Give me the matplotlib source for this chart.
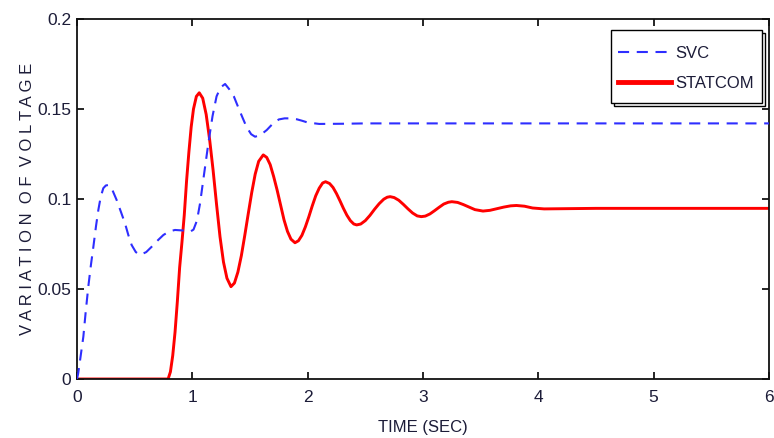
import matplotlib
matplotlib.use("Agg")
import matplotlib.pyplot as plt
from matplotlib.patches import Rectangle

# ---------------- data ----------------
svc_t = [0.00, 0.01, 0.03, 0.055, 0.075, 0.098, 0.12, 0.142, 0.165, 0.185,
         0.205, 0.228, 0.25, 0.272, 0.30, 0.344, 0.38, 0.416, 0.445, 0.474,
         0.51, 0.546, 0.60, 0.648, 0.70, 0.749, 0.80, 0.85, 0.92, 0.98,
         1.01, 1.04, 1.067, 1.10, 1.139, 1.175, 1.21, 1.245, 1.284, 1.32,
         1.36, 1.385, 1.43, 1.47, 1.51, 1.544, 1.59, 1.645, 1.70, 1.75,
         1.80, 1.85, 1.905, 1.95, 2.00, 2.10, 2.30, 2.50, 3.00, 4.00, 5.00, 6.00]
svc_v = [0.000, 0.003, 0.012, 0.0235, 0.037, 0.0513, 0.063, 0.0735, 0.085, 0.0939,
         0.101, 0.106, 0.1075, 0.1078, 0.106, 0.0994, 0.093, 0.0865, 0.080, 0.0744,
         0.0705, 0.0689, 0.0705, 0.0735, 0.077, 0.080, 0.082, 0.0828, 0.0825, 0.0818,
         0.083, 0.088, 0.0976, 0.113, 0.131, 0.146, 0.157, 0.162, 0.1639, 0.161,
         0.157, 0.153, 0.146, 0.140, 0.136, 0.1346, 0.1355, 0.1383, 0.142, 0.1442,
         0.1448, 0.1448, 0.1443, 0.1435, 0.1425, 0.1417, 0.1418, 0.142, 0.142, 0.142, 0.142, 0.142]

statcom_t = [0.00, 0.79, 0.81, 0.83, 0.85, 0.87, 0.89, 0.91, 0.93, 0.95,
             0.97, 0.99, 1.01, 1.035, 1.06, 1.09, 1.12, 1.15, 1.18, 1.21,
             1.24, 1.27, 1.30, 1.335, 1.365, 1.395, 1.425, 1.455, 1.485, 1.515,
             1.545, 1.575, 1.615, 1.645, 1.675, 1.705, 1.735, 1.765, 1.795, 1.825,
             1.855, 1.89, 1.92, 1.95, 1.98, 2.01, 2.04, 2.07, 2.10, 2.13,
             2.155, 2.19, 2.22, 2.25, 2.28, 2.31, 2.34, 2.37, 2.40, 2.425,
             2.46, 2.50, 2.54, 2.58, 2.62, 2.66, 2.69, 2.715, 2.75, 2.79,
             2.83, 2.87, 2.91, 2.95, 2.985, 3.02, 3.06, 3.10, 3.14, 3.18,
             3.22, 3.25, 3.30, 3.35, 3.40, 3.45, 3.52, 3.58, 3.64, 3.70,
             3.76, 3.81, 3.88, 3.95, 4.05, 4.20, 4.35, 4.50, 5.00, 6.00]
statcom_v = [0.000, 0.000, 0.004, 0.013, 0.026, 0.043, 0.062, 0.076, 0.091, 0.110,
             0.126, 0.140, 0.150, 0.157, 0.159, 0.156, 0.147, 0.133, 0.116, 0.097,
             0.079, 0.065, 0.056, 0.0513, 0.0533, 0.0594, 0.0685, 0.0799, 0.0919, 0.1036,
             0.1138, 0.1209, 0.1245, 0.1231, 0.1191, 0.1125, 0.1050, 0.0967, 0.0884, 0.0820,
             0.0777, 0.0757, 0.0768, 0.0798, 0.0845, 0.0901, 0.0962, 0.1018, 0.1060, 0.1089,
             0.1096, 0.1086, 0.1064, 0.1030, 0.0990, 0.0948, 0.0910, 0.0880, 0.0861, 0.0856,
             0.0861, 0.0880, 0.0909, 0.0943, 0.0974, 0.0999, 0.1010, 0.1013, 0.1008, 0.0993,
             0.0970, 0.0945, 0.0922, 0.0906, 0.0902, 0.0905, 0.0917, 0.0935, 0.0954, 0.0972,
             0.0982, 0.0985, 0.0981, 0.0969, 0.0955, 0.0941, 0.0933, 0.0937, 0.0946, 0.0955,
             0.0962, 0.0964, 0.0960, 0.0950, 0.0945, 0.0946, 0.0947, 0.0948, 0.0948, 0.0948]

x_ticks = [0, 1, 2, 3, 4, 5, 6]
y_ticks = [0, 0.05, 0.1, 0.15, 0.2]
y_tick_labels = ["0", "0.05", "0.1", "0.15", "0.2"]
series_names = ["SVC", "STATCOM"]
x_label = "TIME (SEC)"
y_label = "V A R I A T I O N  O F  V O L T A G E"

# ---------------- styling ----------------
plt.rcParams['font.family'] = ['Liberation Sans', 'DejaVu Sans']
plt.rcParams['lines.scale_dashes'] = False
text_color = '#1c1c38'

fig = plt.figure(figsize=(7.74, 4.38), dpi=100)
ax = fig.add_axes([77 / 774, 1 - 379 / 438, 692 / 774, 360 / 438])

ax.plot(svc_t, svc_v, color='#2e2eff', linewidth=1.5, dashes=(8, 5.5),
        label=series_names[0], zorder=3)
ax.plot(statcom_t, statcom_v, color='#ff0000', linewidth=2.1,
        label=series_names[1], zorder=2)

ax.set_xlim(0, 6)
ax.set_ylim(0, 0.2)
ax.set_xticks(x_ticks)
ax.set_xticklabels([str(v) for v in x_ticks])
ax.set_yticks(y_ticks)
ax.set_yticklabels(y_tick_labels)

ax.tick_params(direction='in', length=5, width=1.2, top=True, right=True,
               labelsize=12.5, colors='black', labelcolor=text_color)
ax.tick_params(axis='x', pad=8)
ax.tick_params(axis='y', pad=4)
for s in ax.spines.values():
    s.set_linewidth(1.3)
    s.set_color('#111111')

ax.set_xlabel(x_label, fontsize=12, color=text_color, labelpad=11)
ax.set_ylabel(y_label, fontsize=12, color=text_color, labelpad=2)

# legend box (MATLAB style with offset outline shadow)
box_l, box_r = (611 - 77) / 692, (762 - 77) / 692
box_b, box_t = (379 - 103) / 360, (379 - 30) / 360
off_x, off_y = 3 / 692, 3 / 360
ax.add_patch(Rectangle((box_l + off_x, box_b - off_y), box_r - box_l, box_t - box_b,
                       transform=ax.transAxes, facecolor='white', edgecolor='black',
                       linewidth=1.0, zorder=8))
ax.add_patch(Rectangle((box_l, box_b), box_r - box_l, box_t - box_b,
                       transform=ax.transAxes, facecolor='white', edgecolor='black',
                       linewidth=1.0, zorder=9))

leg = ax.legend(loc='upper left', bbox_to_anchor=((618 - 77) / 692, (379 - 46) / 360),
                borderaxespad=0, borderpad=0, frameon=False,
                fontsize=12, handlelength=3.2, handletextpad=0.25,
                labelspacing=0.9)
leg.set_zorder(10)
for t in leg.get_texts():
    t.set_color(text_color)
leg.get_lines()[1].set_linewidth(3.5)

fig.savefig('out.png', dpi=100)
